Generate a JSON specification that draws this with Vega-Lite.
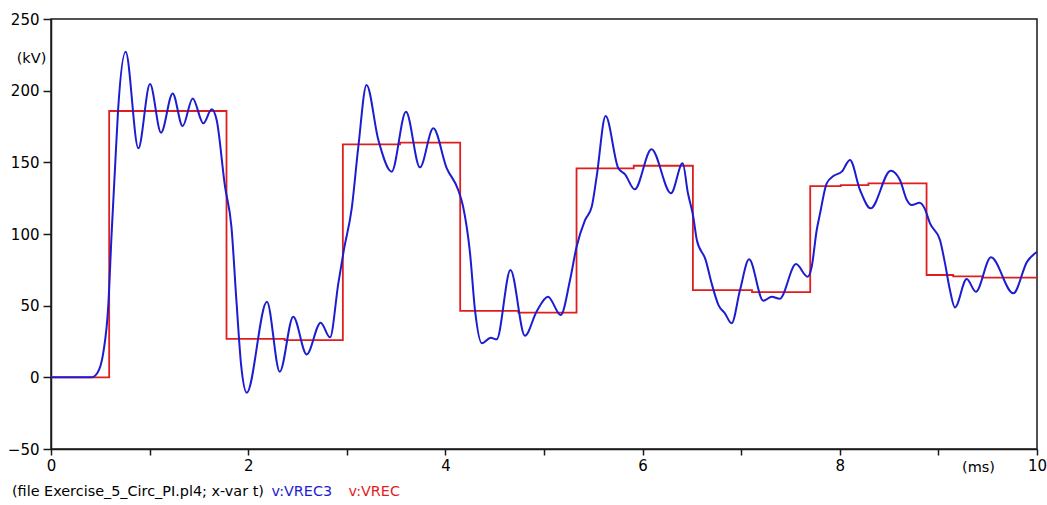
{
  "$schema": "https://vega.github.io/schema/vega-lite/v6.json",
  "width": 986,
  "height": 430,
  "autosize": {"type": "none"},
  "padding": {"left": 51, "top": 19, "right": 10, "bottom": 56},
  "background": "white",
  "config": {
    "font": "DejaVu Sans",
    "view": {"stroke": "#1a1a1a", "strokeWidth": 1.5},
    "axis": {
      "grid": false,
      "domainColor": "#1a1a1a",
      "domainWidth": 1.5,
      "tickColor": "#1a1a1a",
      "tickWidth": 1.5,
      "labelColor": "#000000",
      "labelFont": "DejaVu Sans",
      "labelFontSize": 15,
      "titleFont": "DejaVu Sans",
      "titleFontSize": 14.5,
      "titleFontWeight": "normal",
      "titleColor": "#000000"
    }
  },
  "datasets": {
    "vrec": [
      {"t": 0, "v": 0, "series": "v:VREC"},
      {"t": 0.59, "v": 185.8, "series": "v:VREC"},
      {"t": 1.78, "v": 26.9, "series": "v:VREC"},
      {"t": 2.37, "v": 26.0, "series": "v:VREC"},
      {"t": 2.96, "v": 162.5, "series": "v:VREC"},
      {"t": 3.54, "v": 163.7, "series": "v:VREC"},
      {"t": 4.15, "v": 46.3, "series": "v:VREC"},
      {"t": 4.74, "v": 45.1, "series": "v:VREC"},
      {"t": 5.33, "v": 145.8, "series": "v:VREC"},
      {"t": 5.91, "v": 147.6, "series": "v:VREC"},
      {"t": 6.51, "v": 60.9, "series": "v:VREC"},
      {"t": 7.11, "v": 59.5, "series": "v:VREC"},
      {"t": 7.70, "v": 133.4, "series": "v:VREC"},
      {"t": 8.01, "v": 134.1, "series": "v:VREC"},
      {"t": 8.29, "v": 135.3, "series": "v:VREC"},
      {"t": 8.88, "v": 71.4, "series": "v:VREC"},
      {"t": 9.15, "v": 70.5, "series": "v:VREC"},
      {"t": 9.45, "v": 69.5, "series": "v:VREC"},
      {"t": 10, "v": 69.5, "series": "v:VREC"}
    ],
    "vrec3": [
      {"t": 0, "v": 0, "series": "v:VREC3"},
      {"t": 0.41, "v": 0, "series": "v:VREC3"},
      {"t": 0.47, "v": 3, "series": "v:VREC3"},
      {"t": 0.53, "v": 17, "series": "v:VREC3"},
      {"t": 0.58, "v": 49, "series": "v:VREC3"},
      {"t": 0.615, "v": 100.6, "series": "v:VREC3"},
      {"t": 0.65, "v": 147, "series": "v:VREC3"},
      {"t": 0.68, "v": 186, "series": "v:VREC3"},
      {"t": 0.757, "v": 227.2, "series": "v:VREC3"},
      {"t": 0.886, "v": 159.8, "series": "v:VREC3"},
      {"t": 1.004, "v": 204.6, "series": "v:VREC3"},
      {"t": 1.116, "v": 170.7, "series": "v:VREC3"},
      {"t": 1.234, "v": 198.1, "series": "v:VREC3"},
      {"t": 1.335, "v": 175.3, "series": "v:VREC3"},
      {"t": 1.437, "v": 194.6, "series": "v:VREC3"},
      {"t": 1.545, "v": 177.2, "series": "v:VREC3"},
      {"t": 1.63, "v": 187, "series": "v:VREC3"},
      {"t": 1.68, "v": 179.5, "series": "v:VREC3"},
      {"t": 1.765, "v": 133, "series": "v:VREC3"},
      {"t": 1.83, "v": 105, "series": "v:VREC3"},
      {"t": 1.88, "v": 54, "series": "v:VREC3"},
      {"t": 1.93, "v": 7.4, "series": "v:VREC3"},
      {"t": 1.985, "v": -10.7, "series": "v:VREC3"},
      {"t": 2.19, "v": 52.8, "series": "v:VREC3"},
      {"t": 2.32, "v": 3.9, "series": "v:VREC3"},
      {"t": 2.457, "v": 42.3, "series": "v:VREC3"},
      {"t": 2.593, "v": 16, "series": "v:VREC3"},
      {"t": 2.735, "v": 38.1, "series": "v:VREC3"},
      {"t": 2.83, "v": 27.9, "series": "v:VREC3"},
      {"t": 2.914, "v": 65.6, "series": "v:VREC3"},
      {"t": 2.97, "v": 88.8, "series": "v:VREC3"},
      {"t": 3.05, "v": 117.9, "series": "v:VREC3"},
      {"t": 3.117, "v": 160.9, "series": "v:VREC3"},
      {"t": 3.2, "v": 204, "series": "v:VREC3"},
      {"t": 3.32, "v": 165.6, "series": "v:VREC3"},
      {"t": 3.455, "v": 143.5, "series": "v:VREC3"},
      {"t": 3.6, "v": 185.3, "series": "v:VREC3"},
      {"t": 3.742, "v": 146.5, "series": "v:VREC3"},
      {"t": 3.877, "v": 173.7, "series": "v:VREC3"},
      {"t": 4.013, "v": 146, "series": "v:VREC3"},
      {"t": 4.13, "v": 130.7, "series": "v:VREC3"},
      {"t": 4.18, "v": 119, "series": "v:VREC3"},
      {"t": 4.25, "v": 86.5, "series": "v:VREC3"},
      {"t": 4.30, "v": 47, "series": "v:VREC3"},
      {"t": 4.37, "v": 23.7, "series": "v:VREC3"},
      {"t": 4.46, "v": 27.6, "series": "v:VREC3"},
      {"t": 4.52, "v": 26.5, "series": "v:VREC3"},
      {"t": 4.66, "v": 74.9, "series": "v:VREC3"},
      {"t": 4.807, "v": 29, "series": "v:VREC3"},
      {"t": 4.924, "v": 45.8, "series": "v:VREC3"},
      {"t": 5.04, "v": 56.3, "series": "v:VREC3"},
      {"t": 5.17, "v": 43.5, "series": "v:VREC3"},
      {"t": 5.264, "v": 67.9, "series": "v:VREC3"},
      {"t": 5.33, "v": 91, "series": "v:VREC3"},
      {"t": 5.416, "v": 109.7, "series": "v:VREC3"},
      {"t": 5.484, "v": 119, "series": "v:VREC3"},
      {"t": 5.534, "v": 140, "series": "v:VREC3"},
      {"t": 5.625, "v": 182.3, "series": "v:VREC3"},
      {"t": 5.754, "v": 145.8, "series": "v:VREC3"},
      {"t": 5.82, "v": 141.8, "series": "v:VREC3"},
      {"t": 5.92, "v": 131.2, "series": "v:VREC3"},
      {"t": 6.09, "v": 159.1, "series": "v:VREC3"},
      {"t": 6.288, "v": 128.4, "series": "v:VREC3"},
      {"t": 6.406, "v": 149.3, "series": "v:VREC3"},
      {"t": 6.46, "v": 128.4, "series": "v:VREC3"},
      {"t": 6.514, "v": 112, "series": "v:VREC3"},
      {"t": 6.55, "v": 95.8, "series": "v:VREC3"},
      {"t": 6.64, "v": 81.8, "series": "v:VREC3"},
      {"t": 6.70, "v": 65.6, "series": "v:VREC3"},
      {"t": 6.77, "v": 50.4, "series": "v:VREC3"},
      {"t": 6.835, "v": 44.6, "series": "v:VREC3"},
      {"t": 6.903, "v": 37.7, "series": "v:VREC3"},
      {"t": 6.988, "v": 60.9, "series": "v:VREC3"},
      {"t": 7.08, "v": 82.3, "series": "v:VREC3"},
      {"t": 7.224, "v": 53.4, "series": "v:VREC3"},
      {"t": 7.31, "v": 56.2, "series": "v:VREC3"},
      {"t": 7.39, "v": 54.8, "series": "v:VREC3"},
      {"t": 7.556, "v": 79, "series": "v:VREC3"},
      {"t": 7.674, "v": 70.2, "series": "v:VREC3"},
      {"t": 7.715, "v": 77.2, "series": "v:VREC3"},
      {"t": 7.766, "v": 102.8, "series": "v:VREC3"},
      {"t": 7.8, "v": 114.4, "series": "v:VREC3"},
      {"t": 7.867, "v": 135.3, "series": "v:VREC3"},
      {"t": 7.935, "v": 140.4, "series": "v:VREC3"},
      {"t": 8.02, "v": 143.5, "series": "v:VREC3"},
      {"t": 8.103, "v": 151.6, "series": "v:VREC3"},
      {"t": 8.205, "v": 130.7, "series": "v:VREC3"},
      {"t": 8.313, "v": 117.9, "series": "v:VREC3"},
      {"t": 8.516, "v": 144.2, "series": "v:VREC3"},
      {"t": 8.61, "v": 137.7, "series": "v:VREC3"},
      {"t": 8.68, "v": 123.7, "series": "v:VREC3"},
      {"t": 8.73, "v": 120.2, "series": "v:VREC3"},
      {"t": 8.81, "v": 121.8, "series": "v:VREC3"},
      {"t": 8.86, "v": 117.9, "series": "v:VREC3"},
      {"t": 8.915, "v": 107.4, "series": "v:VREC3"},
      {"t": 9.016, "v": 95.8, "series": "v:VREC3"},
      {"t": 9.067, "v": 79.5, "series": "v:VREC3"},
      {"t": 9.117, "v": 60.9, "series": "v:VREC3"},
      {"t": 9.168, "v": 48.8, "series": "v:VREC3"},
      {"t": 9.287, "v": 68.6, "series": "v:VREC3"},
      {"t": 9.38, "v": 59.7, "series": "v:VREC3"},
      {"t": 9.533, "v": 83.7, "series": "v:VREC3"},
      {"t": 9.76, "v": 58.6, "series": "v:VREC3"},
      {"t": 9.9, "v": 80.7, "series": "v:VREC3"},
      {"t": 10, "v": 87.6, "series": "v:VREC3"}
    ]
  },
  "encoding": {
    "x": {
      "field": "t",
      "type": "quantitative",
      "scale": {"domain": [0, 10], "nice": false, "zero": false},
      "axis": {
        "values": [0, 1, 2, 3, 4, 5, 6, 7, 8, 9, 10],
        "labelExpr": "datum.value % 2 == 0 ? datum.label : ''",
        "labelFlush": false,
        "labelOverlap": false,
        "tickSize": 6,
        "labelPadding": 3,
        "title": "(ms)",
        "titleX": 927,
        "titleY": 18,
        "titleAngle": 0,
        "titleAlign": "center",
        "titleBaseline": "middle"
      }
    },
    "y": {
      "field": "v",
      "type": "quantitative",
      "scale": {"domain": [-50, 250], "nice": false, "zero": false},
      "axis": {
        "values": [-50, 0, 50, 100, 150, 200, 250],
        "labelFlush": false,
        "labelOverlap": false,
        "tickSize": 8,
        "labelPadding": 4,
        "title": "(kV)",
        "titleX": -20,
        "titleY": 39,
        "titleAngle": 0,
        "titleAlign": "center",
        "titleBaseline": "middle"
      }
    },
    "color": {
      "field": "series",
      "type": "nominal",
      "scale": {"domain": ["v:VREC3", "v:VREC"], "range": ["#1c1cd0", "#e01e1e"]},
      "legend": {
        "orient": "none",
        "legendX": -39,
        "legendY": 466,
        "direction": "horizontal",
        "title": "(file Exercise_5_Circ_PI.pl4; x-var t)",
        "titleOrient": "left",
        "titleLimit": 500,
        "titleFontSize": 14.4,
        "titleFontWeight": "normal",
        "titleColor": "#000000",
        "titlePadding": 2,
        "labelFontSize": 14.4,
        "labelLimit": 200,
        "labelColor": {"expr": "datum.value == 'v:VREC3' ? '#1c1cd0' : '#e01e1e'"},
        "symbolSize": 0,
        "symbolStrokeWidth": 0,
        "symbolOpacity": 0,
        "labelOffset": -9,
        "columnPadding": 10
      }
    }
  },
  "layer": [
    {
      "data": {"name": "vrec"},
      "mark": {"type": "line", "interpolate": "step-after", "strokeWidth": 1.8}
    },
    {
      "data": {"name": "vrec3"},
      "mark": {"type": "line", "interpolate": "monotone", "strokeWidth": 2}
    }
  ]
}
